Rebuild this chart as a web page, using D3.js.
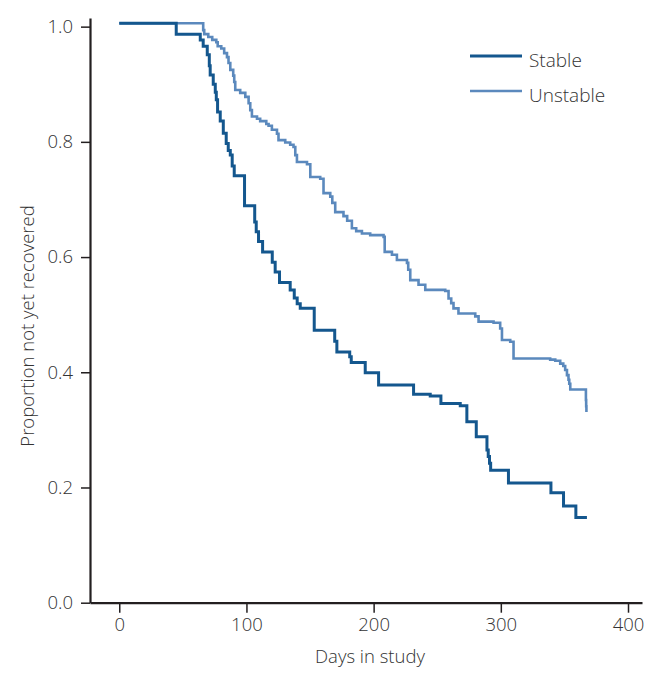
<!DOCTYPE html>
<html>
<head>
<meta charset="utf-8">
<script src="https://cdn.jsdelivr.net/npm/d3@7/dist/d3.min.js"></script>
<style>
  html, body { margin: 0; padding: 0; background: #fff; }
  svg { display: block; }
  text { font-family: "Open Sans", "Noto Sans", sans-serif; font-weight: 300; }
</style>
</head>
<body>
<svg id="chart" width="659" height="676"></svg>
<script>
// ---- Data ----
const seriesNames = ["Stable", "Unstable"];

const stableDays = [0, 44.8, 63.7, 66.0, 69.2, 70.8, 71.5, 73.9, 75.5, 76.3, 77.3, 79.4, 81.8, 84.1, 85.7, 87.3, 88.8, 90.4,
  98.5, 106.5, 107.7, 109.5, 112.7, 120.3, 122.6, 126.0, 134.4, 137.6, 139.9, 142.3, 153.3, 169.4, 171.1,
  181.2, 182.4, 193.4, 203.9, 231.4, 244.5, 252.9, 268.1, 273.3, 280.7, 289.1, 290.1, 291.1, 292.0,
  306.0, 339.4, 349.3, 359.0, 367.7];
const stableValues = [1.006, 0.987, 0.977, 0.966, 0.951, 0.932, 0.916, 0.900, 0.886, 0.873, 0.852, 0.836, 0.815, 0.797, 0.785, 0.777, 0.758, 0.741,
  0.689, 0.661, 0.644, 0.627, 0.609, 0.591, 0.574, 0.556, 0.543, 0.529, 0.519, 0.511, 0.473, 0.454, 0.435,
  0.427, 0.417, 0.399, 0.378, 0.362, 0.359, 0.346, 0.342, 0.314, 0.288, 0.265, 0.254, 0.242, 0.230,
  0.208, 0.191, 0.168, 0.148, 0.148];

const unstableDays = [0, 66.0, 66.8, 70.0, 73.1, 76.3, 77.4, 80.2, 82.5, 84.7, 85.9, 87.3, 89.6, 90.4, 91.2, 95.1, 99.1,
  101.7, 103.0, 104.3, 108.3, 110.8, 115.6, 117.4, 120.0, 124.0, 125.2, 130.5, 134.4, 137.0, 138.4, 139.7,
  147.6, 150.2, 158.0, 160.6, 165.9, 167.5, 169.8, 176.3, 179.2, 182.9, 186.3, 190.8, 197.3, 207.8, 208.7,
  214.4, 218.3, 226.2, 227.2, 228.8, 235.3, 240.6, 256.3, 258.9, 261.0, 262.8, 266.7, 279.9, 282.5, 294.3,
  299.5, 300.9, 307.4, 310.0, 338.8, 342.8, 346.7, 349.1, 350.6, 352.0, 353.2, 353.8, 354.6, 366.9, 367.1, 367.3];
const unstableValues = [1.006, 0.994, 0.987, 0.982, 0.977, 0.973, 0.966, 0.962, 0.954, 0.947, 0.937, 0.925, 0.915, 0.904, 0.890, 0.885, 0.878,
  0.867, 0.855, 0.844, 0.840, 0.836, 0.831, 0.828, 0.821, 0.814, 0.803, 0.799, 0.795, 0.791, 0.777, 0.765,
  0.761, 0.739, 0.736, 0.711, 0.705, 0.694, 0.678, 0.671, 0.663, 0.650, 0.645, 0.641, 0.638, 0.635, 0.609,
  0.604, 0.595, 0.590, 0.578, 0.560, 0.552, 0.543, 0.541, 0.528, 0.520, 0.511, 0.502, 0.497, 0.488, 0.486,
  0.476, 0.456, 0.453, 0.424, 0.422, 0.420, 0.415, 0.411, 0.404, 0.395, 0.387, 0.380, 0.370, 0.352, 0.341, 0.331];

const xTicks = [0, 100, 200, 300, 400];
const yTicks = [0.0, 0.2, 0.4, 0.6, 0.8, 1.0];
const xLabel = "Days in study";
const yLabel = "Proportion not yet recovered";

// ---- Layout ----
const svg = d3.select("#chart");
const colors = { Stable: "#14578e", Unstable: "#5b89bd" };
const axisColor = "#231f20";
const textColor = "#333333";
const fontSize = "18.5px";

const x = d3.scaleLinear().domain([-23, 411]).range([90, 642]);
const y = d3.scaleLinear().domain([0, 1.015]).range([602.7, 18]);

// Axes
const yAxis = d3.axisLeft(y).tickValues(yTicks).tickFormat(d3.format(".1f"))
  .tickSize(9).tickSizeOuter(0).tickPadding(8);
const xAxis = d3.axisBottom(x).tickValues(xTicks).tickFormat(d3.format("d"))
  .tickSize(10).tickSizeOuter(0).tickPadding(5);

const gy = svg.append("g").attr("transform", `translate(${x.range()[0]},0)`).call(yAxis);
const gx = svg.append("g").attr("transform", `translate(0,${y.range()[0]})`).call(xAxis);

[gx, gy].forEach(g => {
  g.select(".domain").attr("stroke", axisColor).attr("stroke-width", 2.2);
  g.selectAll(".tick line").attr("stroke", axisColor).attr("stroke-width", 1.5);
  g.selectAll(".tick text").attr("fill", textColor).style("font-size", fontSize)
    .style("font-family", '"Open Sans", "Noto Sans", sans-serif').style("font-weight", 300);
});

// Axis titles
svg.append("text")
  .attr("x", 370).attr("y", 663)
  .attr("text-anchor", "middle")
  .attr("fill", textColor).style("font-size", fontSize)
  .text(xLabel);

svg.append("text")
  .attr("transform", `translate(34,326) rotate(-90)`)
  .attr("text-anchor", "middle")
  .attr("fill", textColor).style("font-size", fontSize)
  .text(yLabel);

// Curves
const line = d3.line().x(d => x(d[0])).y(d => y(d[1])).curve(d3.curveStepAfter);
const series = [
  { name: "Stable", data: d3.zip(stableDays, stableValues), width: 3 },
  { name: "Unstable", data: d3.zip(unstableDays, unstableValues), width: 2.6 }
];

series.slice().reverse().forEach(s => {
  svg.append("path")
    .datum(s.data)
    .attr("fill", "none")
    .attr("stroke", colors[s.name])
    .attr("stroke-width", s.width)
    .attr("stroke-linejoin", "miter")
    .attr("d", line);
});

// Legend
const legend = svg.append("g").attr("transform", "translate(470,56)");
seriesNames.forEach((name, i) => {
  const g = legend.append("g").attr("transform", `translate(0,${i * 35})`);
  g.append("line").attr("x1", 0).attr("x2", 52).attr("y1", 0).attr("y2", 0)
    .attr("stroke", colors[name]).attr("stroke-width", name === "Stable" ? 3 : 2.6);
  g.append("text").attr("x", 59).attr("y", 10.5)
    .attr("fill", textColor).style("font-size", "19px").text(name);
});
</script>
</body>
</html>
